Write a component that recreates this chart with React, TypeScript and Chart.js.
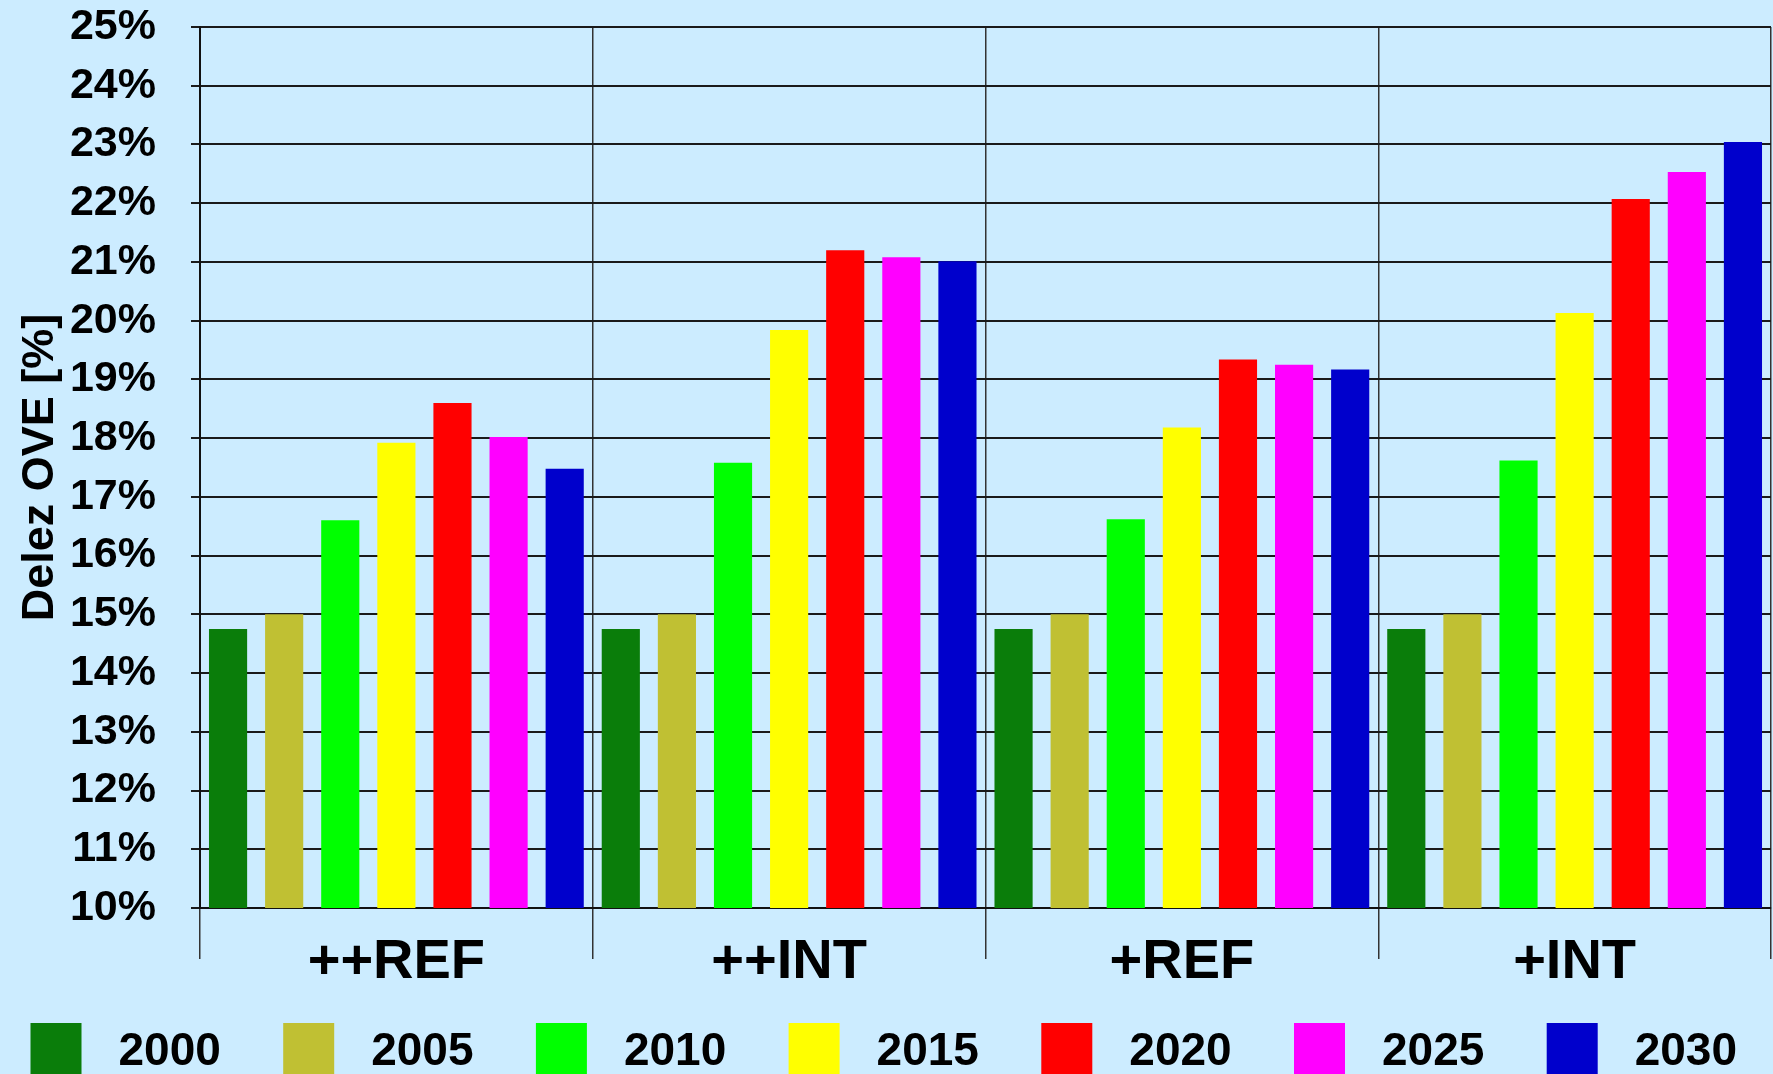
import React, { useEffect, useRef } from "react";
import { Chart, registerables } from "chart.js";

Chart.register(...registerables);

const categories = ["++REF", "++INT", "+REF", "+INT"];
const years = ["2000", "2005", "2010", "2015", "2020", "2025", "2030"];
const colors = ["#0A7D0A", "#C0C033", "#00FF00", "#FFFF00", "#FF0000", "#FF00FF", "#0000CC"];

const s2000 = [14.75, 14.75, 14.75, 14.75];
const s2005 = [15.0, 15.0, 15.0, 15.0];
const s2010 = [16.6, 17.58, 16.62, 17.62];
const s2015 = [17.92, 19.84, 18.18, 20.13];
const s2020 = [18.6, 21.2, 19.34, 22.07];
const s2025 = [18.02, 21.08, 19.25, 22.53];
const s2030 = [17.48, 21.01, 19.17, 23.04];
const seriesValues = [s2000, s2005, s2010, s2015, s2020, s2025, s2030];

const yMin = 10;
const yMax = 25;
const yStep = 1;
const yTitle = "Delez OVE [%]";

const FONT = 'Arial, "Liberation Sans", sans-serif';
const BG = "#CCECFF";

const bgPlugin = {
  id: "bgFill",
  beforeDraw(chart: any) {
    const ctx = chart.ctx;
    ctx.save();
    ctx.fillStyle = BG;
    ctx.fillRect(0, 0, chart.width, chart.height);
    ctx.restore();
  },
};

const legendPlugin = {
  id: "customLegend",
  afterDraw(chart: any) {
    const ctx = chart.ctx;
    ctx.save();
    ctx.font = `bold 46px ${FONT}`;
    ctx.textBaseline = "middle";
    ctx.textAlign = "left";
    chart.data.datasets.forEach((ds: any, i: number) => {
      const x = 30.5 + i * 252.7;
      ctx.fillStyle = ds.backgroundColor;
      ctx.fillRect(x, 1023, 51, 60);
      ctx.fillStyle = "#000";
      ctx.fillText(ds.label, x + 88, 1052);
    });
    ctx.restore();
  },
};

export default function App() {
  const ref = useRef<HTMLCanvasElement | null>(null);
  useEffect(() => {
    document.body.style.margin = "0";
    document.body.style.background = BG;
    const chart = new Chart(ref.current as HTMLCanvasElement, {
      type: "bar",
      data: {
        labels: categories,
        datasets: years.map((y, i) => ({
          label: y,
          data: seriesValues[i],
          backgroundColor: colors[i],
          borderWidth: 0,
          categoryPercentage: 1.0,
          barPercentage: 0.68,
        })),
      },
      options: {
        responsive: false,
        animation: false,
        devicePixelRatio: 1,
        layout: { padding: { top: 27, right: 2, left: 0, bottom: 86 } },
        plugins: {
          legend: { display: false },
          tooltip: { enabled: false },
        },
        scales: {
          x: {
            grid: {
              offset: true,
              color: "#333",
              lineWidth: 1.5,
              tickLength: 51,
              drawOnChartArea: true,
            },
            border: { display: true, color: "#111", width: 2 },
            ticks: {
              color: "#000",
              padding: -30,
              font: { family: FONT, size: 56, weight: "bold" },
            },
            afterFit: (s: any) => {
              s.height = 80;
              s.paddingLeft = 0;
              s.paddingRight = 0;
            },
          },
          y: {
            min: yMin,
            max: yMax,
            grid: { color: "#1a1a1a", lineWidth: 2, tickLength: 9 },
            border: { display: true, color: "#111", width: 2 },
            ticks: {
              stepSize: yStep,
              color: "#000",
              padding: 35,
              font: { family: FONT, size: 43, weight: "bold" },
              callback: (v: any) => `${v}%`,
            },
            title: {
              display: true,
              text: yTitle,
              color: "#000",
              padding: { top: 18, bottom: 8 },
              font: { family: FONT, size: 45, weight: "bold", lineHeight: 1 },
            },
            afterFit: (s: any) => {
              s.width = 200;
              s.paddingTop = 0;
              s.paddingBottom = 0;
            },
          },
        },
      },
      plugins: [bgPlugin, legendPlugin],
    });
    return () => chart.destroy();
  }, []);
  return (
    <canvas
      ref={ref}
      width={1773}
      height={1074}
      style={{ position: "absolute", left: 0, top: 0, width: 1773, height: 1074 }}
    />
  );
}
